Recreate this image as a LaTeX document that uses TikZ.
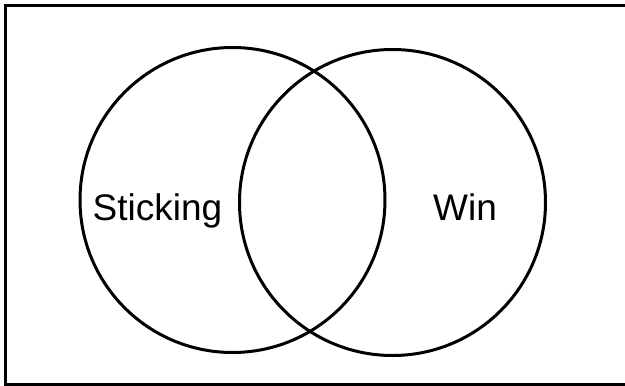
\documentclass[tikz,border=0pt]{standalone}
\usepackage{fontspec}
\setmainfont{Liberation Sans}
\begin{document}
\begin{tikzpicture}[x=1pt,y=-1pt,
  setcircle/.style={draw=black,line width=3pt},
  setlabel/.style={anchor=base,inner sep=0pt,font=\fontsize{37}{40}\selectfont}]
\useasboundingbox (0,0) rectangle (625,386);
\clip (0,0) rectangle (625,386);
\fill[white] (0,0) rectangle (625,386);
\draw[line width=3.5pt] (5.5,5.5) rectangle (627,384.5);
\draw[setcircle] (232.5,200) circle[radius=152.5pt];
\draw[setcircle] (392.5,202.5) circle[radius=153pt];
\node[setlabel] (s) at (157.5,220) {Sticking};
\node[setlabel] (w) at (465,220) {Win};
\end{tikzpicture}
\end{document}
